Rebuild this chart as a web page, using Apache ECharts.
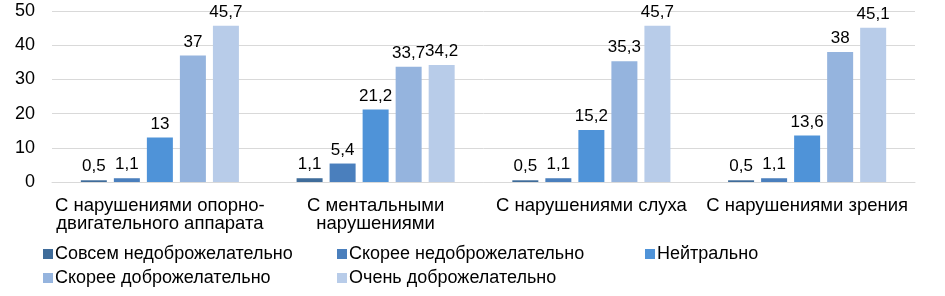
<!DOCTYPE html>
<html><head><meta charset="utf-8">
<script src="https://cdn.jsdelivr.net/npm/echarts@6/dist/echarts.min.js"></script>
<style>html,body{margin:0;padding:0;background:#fff}#c{width:945px;height:296px}</style>
</head><body><div id="c"></div>
<script>
const categories = ['С нарушениями опорно-\nдвигательного аппарата', 'С ментальными\nнарушениями', 'С нарушениями слуха', 'С нарушениями зрения'];
const seriesNames = ['Совсем недоброжелательно', 'Скорее недоброжелательно', 'Нейтрально', 'Скорее доброжелательно', 'Очень доброжелательно'];
const sovsemNedobr = [0.5, 1.1, 0.5, 0.5];
const skoreeNedobr = [1.1, 5.4, 1.1, 1.1];
const neitralno = [13, 21.2, 15.2, 13.6];
const skoreeDobr = [37, 33.7, 35.3, 38];
const ochenDobr = [45.7, 34.2, 45.7, 45.1];
const yTicks = [0, 10, 20, 30, 40, 50];

const values = [sovsemNedobr, skoreeNedobr, neitralno, skoreeDobr, ochenDobr];
const colors = ['#3f6c9a', '#4a7fbd', '#4f93d8', '#95b4de', '#b8cce9'];
const font = 'Liberation Sans, Arial, sans-serif';

const chart = echarts.init(document.getElementById('c'), null, {renderer: 'canvas'});
const legendBase = {
  orient: 'vertical', top: 245, padding: 0, itemWidth: 10, itemHeight: 10, itemGap: 6,
  icon: 'rect', textStyle: {fontFamily: font, fontSize: 18, lineHeight: 18, color: '#000', padding: [0, 0, 0, -3]}
};
chart.setOption({
  animation: false,
  textStyle: {fontFamily: font},
  grid: {left: 52, right: 30, top: 11, bottom: 114},
  legend: [
    Object.assign({}, legendBase, {left: 43, data: [seriesNames[0], seriesNames[3]]}),
    Object.assign({}, legendBase, {left: 337, data: [seriesNames[1], seriesNames[4]]}),
    Object.assign({}, legendBase, {left: 645, data: [seriesNames[2]]})
  ],
  xAxis: {
    type: 'category', data: categories,
    axisTick: {show: false},
    axisLine: {lineStyle: {color: '#d9d9d9'}},
    axisLabel: {color: '#000', fontSize: 18.5, fontFamily: font, margin: 15, lineHeight: 18, interval: 0}
  },
  yAxis: {
    type: 'value', min: yTicks[0], max: yTicks[yTicks.length - 1], interval: 10,
    axisLine: {show: false}, axisTick: {show: false},
    splitLine: {lineStyle: {color: '#d9d9d9', width: 1}},
    axisLabel: {color: '#000', fontSize: 18, fontFamily: font, margin: 17}
  },
  series: seriesNames.map((n, i) => ({
    name: n, type: 'bar', data: values[i],
    barWidth: 26, barGap: '27%',
    itemStyle: {color: colors[i]},
    label: {
      show: true, position: 'top', distance: 5, color: '#000', fontSize: 17, fontFamily: font,
      formatter: p => String(p.value).replace('.', ',')
    }
  }))
});
</script></body></html>
